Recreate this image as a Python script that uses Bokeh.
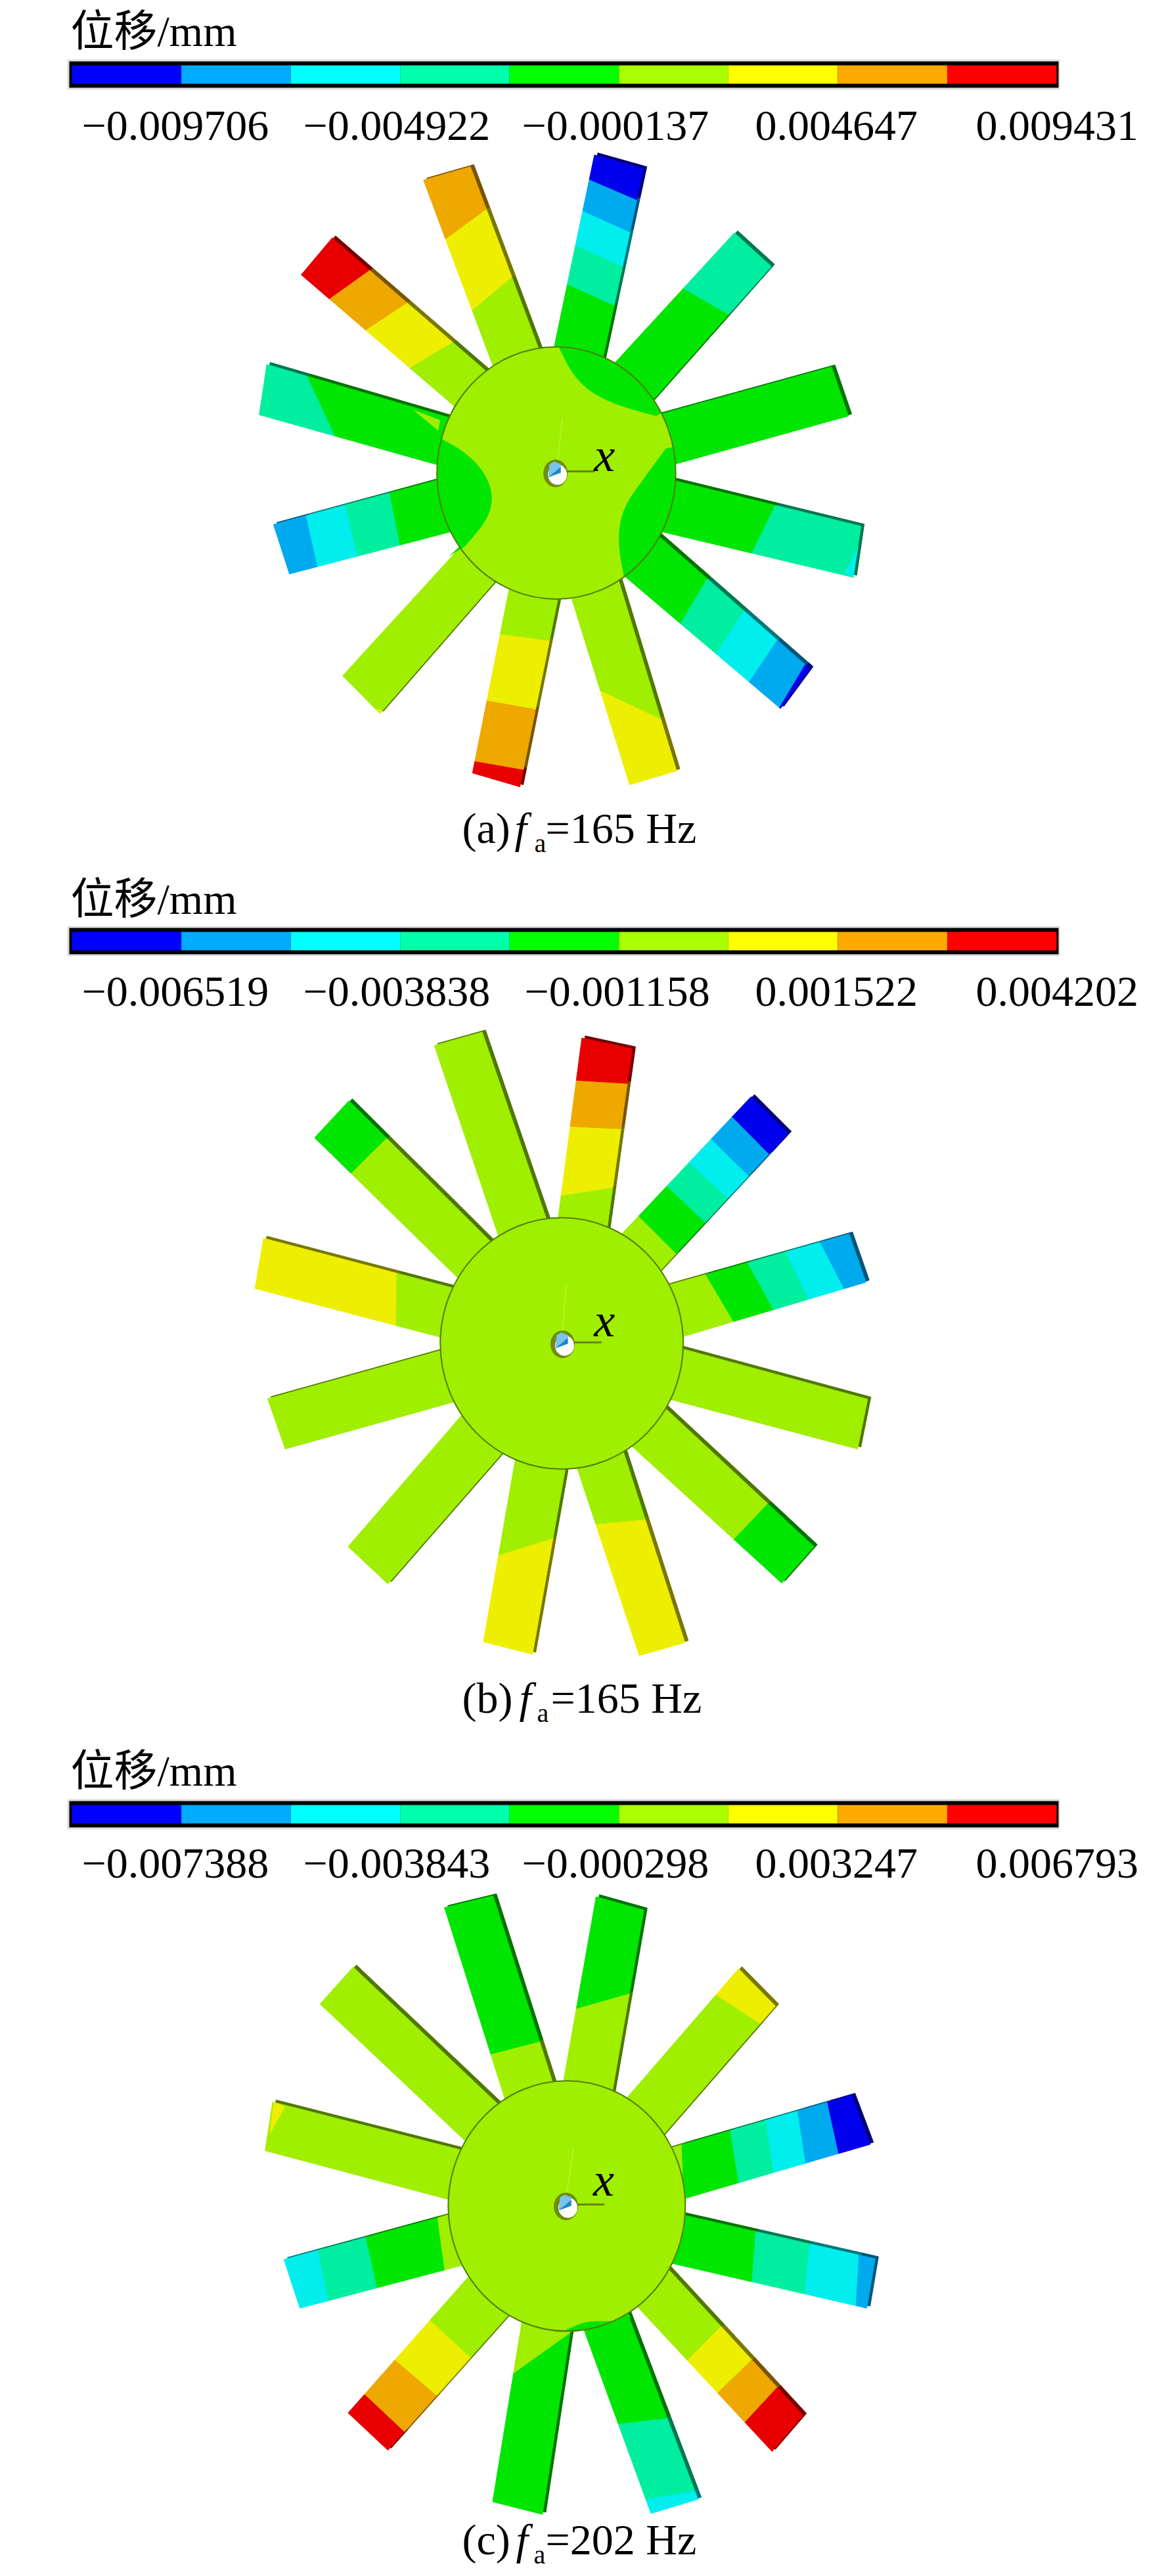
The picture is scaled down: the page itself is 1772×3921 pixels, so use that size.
import math
from bokeh.plotting import figure
from bokeh.embed import file_html
from bokeh.resources import INLINE
from bokeh.core.properties import value

LEGEND_COLORS = ["#0000FF", "#00AAFF", "#00FFFF", "#00FFAA", "#00FF00", "#AAFF00", "#FFFF00", "#FFAA00", "#FF0000"]
FACE_COLORS = ["#0000EE", "#00AAEE", "#00EEEE", "#00EEA0", "#00E600", "#A0EE00", "#EEEE00", "#EEA800", "#E80000"]

TICKS_A = ["\u22120.009706", "\u22120.004922", "\u22120.000137", "0.004647", "0.009431"]
TICKS_B = ["\u22120.006519", "\u22120.003838", "\u22120.001158", "0.001522", "0.004202"]
TICKS_C = ["\u22120.007388", "\u22120.003843", "\u22120.000298", "0.003247", "0.006793"]
TITLE = "\u4f4d\u79fb/mm"
CAPTION_A = ("(a)", "=165 Hz")
CAPTION_B = ("(b)", "=165 Hz")
CAPTION_C = ("(c)", "=202 Hz")

# Blades: section lines (ax, ay, bx, by) from root to tip, and the contour level of each strip.
EDGES_A = [
    [(742,490,858,518),(772,340,880,390),(797,248,902,297),(810,165,920,215),(825,90,945,140),(838,32,955,65)],
    [(885,530,975,620),(1052,352,1158,412),(1172,218,1260,298)],
    [(998,650,1030,770),(1404,538,1444,655)],
    [(1040,812,1015,935),(1268,875,1215,978),(1474,918,1456,1040)],
    [(1010,958,925,1050),(1100,1052,1048,1145),(1185,1132,1135,1215),(1268,1198,1212,1285),(1340,1250,1285,1345),(1352,1258,1282,1353)],
    [(785,1095,900,1062),(857,1310,994,1380),(922,1535,1034,1502)],
    [(635,1065,750,1095),(620,1178,730,1192),(582,1335,695,1355),(553,1480,668,1500),(547,1507,660,1540)],
    [(525,960,605,1045),(237,1275,326,1365)],
    [(462,808,500,930),(350,846,372,960),(245,878,270,985),(150,898,175,1012),(72,914,110,1032)],
    [(478,655,458,770),(150,564,218,702),(56,532,38,652)],
    [(570,540,490,620),(492,487,405,530),(382,394,298,442),(296,312,205,375),(212,230,138,318)],
    [(590,520,704,492),(552,400,636,325),(488,230,574,163),(430,92,542,60)],
]
LEVELS_A = [[4,3,2,1,0],[4,3],[4],[4,3],[4,3,2,1,0],[5,6],[5,6,7,8],[5],[4,3,2,1],[4,3],[5,6,7,8],[5,6,7]]
WEDGES_A = [
    [(405,640,470,665,465,690), 5],
    [(490,990,525,958,530,965), 4],
    [(1468,965,1456,1040,1435,1030), 2],
    [(316,1355,330,1355,326,1365), 6],
]
DISK_A = (747, 791, 285, 301)
HUB_A = (745, 792)
ISLANDS_A = [
    [(755,495),(785,555),(830,600),(900,632),(985,655)],
    [(465,705),(520,735),(570,780),(597,840),(585,900),(530,965)],
    [(1008,733),(961,797),(905,875),(893,954),(909,1043)],
]

EDGES_B = [
    [(752,480,868,510),(762,430,876,410),(780,265,896,270),(795,155,914,162),(808,54,928,80)],
    [(903,522,990,615),(945,480,1032,567),(1012,408,1098,490),(1063,350,1155,435),(1117,295,1203,380),(1165,240,1252,328),(1212,194,1300,282)],
    [(1010,645,1055,765),(1105,622,1170,730),(1205,594,1265,700),(1295,566,1348,672),(1378,544,1432,645),(1446,522,1486,637)],
    [(1055,798,1032,920),(1490,916,1466,1035)],
    [(1018,948,940,1040),(1250,1168,1172,1250),(1362,1268,1285,1355)],
    [(800,1090,912,1057),(848,1213,958,1205),(945,1528,1054,1497)],
    [(650,1055,768,1085),(612,1290,734,1248),(573,1495,690,1525)],
    [(525,950,622,1040),(250,1268,345,1357)],
    [(470,800,512,920),(58,915,100,1035)],
    [(490,648,470,768),(365,614,365,735),(48,532,28,652)],
    [(582,532,500,615),(338,296,258,375),(252,204,170,292)],
    [(605,515,722,482),(456,72,570,40)],
]
LEVELS_B = [[5,6,7,8],[5,4,3,2,1,0],[5,4,3,2,1],[5],[5,4],[5,6],[5,6],[5],[5],[5,6],[5,4],[5]]
WEDGES_B = []
DISK_B = (760, 783, 290, 300)
HUB_B = (762, 785)
ISLANDS_B = []

EDGES_C = [
    [(765,462,880,495),(792,292,914,255),(842,26,956,58)],
    [(912,510,1000,597),(1130,262,1222,318),(1182,198,1270,287)],
    [(1015,627,1058,745),(1048,622,1050,740),(1165,594,1182,705),(1250,568,1265,680),(1325,543,1342,660),(1395,519,1420,635),(1452,500,1496,617)],
    [(1060,788,1040,905),(1222,829,1215,942),(1350,861,1342,970),(1468,889,1463,1000),(1508,890,1488,1008)],
    [(1030,932,955,1020),(1140,1052,1068,1125),(1212,1133,1138,1205),(1278,1194,1200,1278),(1336,1264,1262,1350)],
    [(815,1065,925,1042),(895,1285,1002,1275),(960,1465,1072,1447),(973,1498,1085,1464)],
    [(665,1040,780,1065),(648,1165,778,1068),(595,1470,714,1500)],
    [(540,930,635,1022),(450,1042,535,1120),(365,1135,455,1212),(290,1215,380,1300),(250,1258,345,1347)],
    [(490,785,525,905),(462,792,478,912),(292,842,318,958),(178,873,200,985),(97,892,135,1008)],
    [(510,628,488,748),(70,516,52,632)],
    [(598,512,515,595),(262,194,183,282)],
    [(620,495,736,462),(595,400,698,374),(480,52,596,24)],
]
LEVELS_C = [[5,4],[5,6],[5,4,3,2,1,0],[4,3,2,1],[5,6,7,8],[4,3,2],[5,4],[5,6,7,8],[5,4,3,2],[5],[5],[5,4]]
WEDGES_C = [[(72,516,100,527,62,595), 6]]
DISK_C = (772, 764, 283, 299)
HUB_C = (770, 765)
ISLANDS_C = [[(770,1060),(820,1038),(880,1040),(925,1030)]]

W, H = 1756, 3913
p = figure(width=W, height=H, x_range=(0, W), y_range=(H, 0), output_backend="svg",
           toolbar_location=None, outline_line_color=None, min_border=0)
p.xaxis.visible = False
p.yaxis.visible = False
p.grid.visible = False

SCALE = 1.568
SERIF = value("Liberation Serif")
MIXED = value("Liberation Serif, Noto Sans CJK SC")
BASE_FIX = 0.30


def shade(hex_color, k):
    r, g, b = [int(hex_color[i:i + 2], 16) for i in (1, 3, 5)]
    return "#%02x%02x%02x" % (int(r * k), int(g * k), int(b * k))


def label(x, y, s, size, font=SERIF, style="normal", align="left", base="alphabetic"):
    if base == "alphabetic":
        y = y - BASE_FIX * size
    p.text([x], [y], text=[s], text_font=font, text_font_size=f"{size}px", text_font_style=style,
           text_align=align, text_baseline=base, text_color="#000000")


def on_side(pt, r, t):
    dx, dy = t[0] - r[0], t[1] - r[1]
    k = ((pt[0] - r[0]) * dx + (pt[1] - r[1]) * dy) / (dx * dx + dy * dy)
    return (r[0] + k * dx, r[1] + k * dy)


def straighten(ed):
    """Keep both long sides of a blade straight: section ends are moved onto the root-to-tip lines."""
    r, t = ed[0], ed[-1]
    out = []
    for e in ed:
        a = on_side(e[:2], r[:2], t[:2])
        b = on_side(e[2:], r[2:], t[2:])
        out.append((a[0], a[1], b[0], b[1]))
    return out


def smooth(pts, n=3):
    for _ in range(n):
        q = [pts[0]]
        for a, b in zip(pts[:-1], pts[1:]):
            q.append((0.75 * a[0] + 0.25 * b[0], 0.75 * a[1] + 0.25 * b[1]))
            q.append((0.25 * a[0] + 0.75 * b[0], 0.25 * a[1] + 0.75 * b[1]))
        q.append(pts[-1])
        pts = q
    return pts


def island_outline(curve, disk):
    cx, cy, rx, ry = disk
    pts = smooth(curve)
    ang = lambda q: math.atan2((q[1] - cy) / ry, (q[0] - cx) / rx)
    a0, a1 = ang(pts[-1]), ang(pts[0])
    d = (a1 - a0 + math.pi) % (2 * math.pi) - math.pi
    arc = [(cx + rx * math.cos(a0 + d * i / 40), cy + ry * math.sin(a0 + d * i / 40)) for i in range(41)]
    return pts + arc


def wheel(x0, y0, edges, levels, wedges, disk, hub, islands, axis_end, x_pos, faint):
    tx = lambda v: x0 + v / SCALE
    ty = lambda v: y0 + v / SCALE
    xs, ys, cs, sxs, sys_, scs = [], [], [], [], [], []
    OFF = (8, -5)
    for ed, lv in zip(edges, levels):
        ed = straighten(list(ed))
        a = ed[0]
        t = ed[-1]
        # run the root in under the disk
        k = 0.12
        ed[0] = (a[0] + (a[0] - t[0]) * k, a[1] + (a[1] - t[1]) * k, a[2] + (a[2] - t[2]) * k, a[3] + (a[3] - t[3]) * k)
        for i, level in enumerate(lv):
            e1, e2 = ed[i], ed[i + 1]
            px = [e1[0], e1[2], e2[2], e2[0]]
            py = [e1[1], e1[3], e2[3], e2[1]]
            xs.append([tx(v) for v in px])
            ys.append([ty(v) for v in py])
            cs.append(FACE_COLORS[level])
            sxs.append([tx(v + OFF[0]) for v in px])
            sys_.append([ty(v + OFF[1]) for v in py])
            scs.append(shade(FACE_COLORS[level], 0.5))
    p.patches(sxs, sys_, fill_color=scs, line_color=scs, line_width=1)
    p.patches(xs, ys, fill_color=cs, line_color=cs, line_width=1)
    for w, level in wedges:
        p.patch([tx(w[0]), tx(w[2]), tx(w[4])], [ty(w[1]), ty(w[3]), ty(w[5])],
                fill_color=FACE_COLORS[level], line_color=None)
    cx, cy, rx, ry = disk
    p.ellipse([tx(cx)], [ty(cy)], width=[2 * rx / SCALE], height=[2 * ry / SCALE],
              fill_color=FACE_COLORS[5], line_color=None)
    for isl in islands:
        out = island_outline(isl, disk)
        p.patch([tx(a) for a, _ in out], [ty(b) for _, b in out], fill_color=FACE_COLORS[4], line_color=None)
    p.ellipse([tx(cx)], [ty(cy)], width=[2 * rx / SCALE], height=[2 * ry / SCALE],
              fill_color=None, line_color="#4F7F00", line_width=2)
    hx, hy = tx(hub[0]), ty(hub[1])
    p.line([tx(faint[0]), tx(faint[2])], [ty(faint[1]), ty(faint[3])], line_color="#B2F21E", line_width=2.5)
    p.ellipse([hx], [hy], width=[37], height=[42], fill_color="#6E8C10", line_color=None)
    p.ellipse([hx + 3], [hy + 2], width=[29], height=[31], fill_color="#FFFFFF", line_color=None)
    p.patch([hx - 11, hx - 9, hx - 2, hx + 8, hx + 8],
            [hy + 6, hy - 14, hy - 18, hy - 14, hy - 1], fill_color="#78C4EE", line_color=None)
    p.patch([hx - 11, hx + 8, hx + 8, hx],
            [hy + 6, hy - 1, hy - 10, hy - 3], fill_color="#1B86C8", line_color=None)
    p.line([hx + 17, tx(axis_end)], [hy - 3, hy - 3], line_color="#6C8410", line_width=3)
    label(tx(x_pos[0]), ty(x_pos[1]), "x", 72, style="italic", align="center", base="middle")


def legend(title_base, bar_top, tick_base, ticks, third_x):
    label(107, title_base, TITLE, 66, font=MIXED)
    p.quad(left=[102], right=[1613], top=[bar_top - 3], bottom=[bar_top + 43], fill_color="#DDDDDD", line_color=None)
    p.quad(left=[105], right=[1611], top=[bar_top], bottom=[bar_top + 40], fill_color="#000000", line_color=None)
    n = len(LEGEND_COLORS)
    x0, x1 = 109.0, 1608.0
    w = (x1 - x0) / n
    p.quad(left=[x0 + i * w for i in range(n)], right=[x0 + (i + 1) * w for i in range(n)],
           top=[bar_top + 6] * n, bottom=[bar_top + 34] * n, fill_color=LEGEND_COLORS, line_color=None)
    for x, t in zip([124, 461, third_x, 1149, 1485], ticks):
        label(x, tick_base, t, 66)


def caption(cap, xs, base):
    label(xs[0], base, cap[0], 66)
    label(xs[1], base, "f", 66, style="italic")
    label(xs[2], base + 15, "a", 40)
    label(xs[3], base, cap[1], 66)


legend(67, 93, 211, TICKS_A, 794)
wheel(370, 215, EDGES_A, LEVELS_A, WEDGES_A, DISK_A, HUB_A, ISLANDS_A, 838, (862, 748), (762, 660, 750, 760))
caption(CAPTION_A, (703, 783, 813, 830), 1280)

legend(1388, 1412, 1529, TICKS_B, 798)
wheel(370, 1545, EDGES_B, LEVELS_B, WEDGES_B, DISK_B, HUB_B, ISLANDS_B, 855, (862, 728), (770, 645, 762, 755))
caption(CAPTION_B, (703, 790, 817, 838), 2604)

legend(2715, 2741, 2856, TICKS_C, 794)
wheel(370, 2870, EDGES_C, LEVELS_C, WEDGES_C, DISK_C, HUB_C, ISLANDS_C, 862, (860, 701), (788, 628, 772, 735))
caption(CAPTION_C, (703, 785, 812, 830), 3885)

open("out.html", "w").write(file_html(p, INLINE))
